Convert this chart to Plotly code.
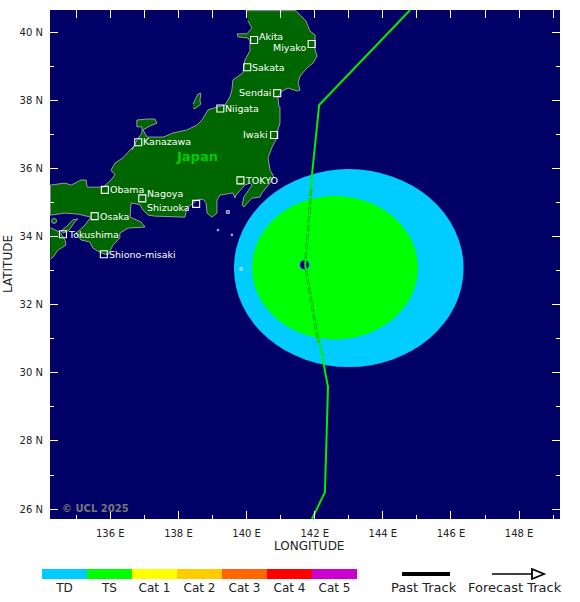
import plotly.graph_objects as go

W, H = 580, 602

# coastlines, lon/lat
honshu_lon = [140.01, 141.45, 141.57, 141.74, 141.86, 142.01, 142.01, 142.01, 142.07, 141.95, 141.77, 141.57,
              141.51, 141.57, 141.48, 141.22, 141.04, 140.92, 140.95, 140.98, 140.98, 140.89, 140.89, 140.75,
              140.63, 140.69, 140.80, 140.69, 140.45, 140.39, 140.16, 139.92, 139.87, 139.92, 140.16, 140.10,
              139.95, 139.81, 139.69, 139.66, 139.60, 139.22, 139.13, 139.13, 138.98, 138.84, 138.81, 138.72,
              138.54, 138.25, 138.19, 137.31, 137.11, 136.96, 136.87, 136.61, 136.58, 136.90, 137.02, 136.52,
              136.28, 136.28, 136.08, 135.93, 135.73, 135.49, 135.40, 135.14, 134.99, 135.26, 135.43, 135.05,
              134.67, 134.26, 134.24, 134.24, 134.67, 134.85, 135.14, 135.29, 135.32, 135.55, 135.79, 136.02,
              136.14, 136.02, 136.14, 136.37, 136.72, 136.64, 136.78, 136.93, 136.93, 136.78, 136.78, 137.08,
              137.31, 137.37, 137.17, 136.96, 137.08, 137.55, 137.84, 138.25, 138.54, 138.69, 138.87, 139.13,
              139.37, 139.51, 139.57, 139.60, 139.89, 139.95, 140.10, 140.10, 140.04, 139.75, 139.72, 140.01,
              140.16, 140.04]
honshu_lat = [40.63, 40.63, 40.50, 40.33, 40.03, 39.92, 39.74, 39.48, 39.30, 39.09, 38.95, 38.71,
              38.51, 38.30, 38.27, 38.36, 38.27, 38.10, 37.80, 37.80, 37.33, 37.04, 36.89, 36.63,
              36.31, 35.95, 35.75, 35.57, 35.28, 35.16, 35.13, 34.87, 34.93, 35.16, 35.51, 35.57,
              35.51, 35.37, 35.22, 35.13, 35.28, 35.22, 35.07, 34.69, 34.57, 34.69, 34.99, 35.10,
              35.07, 34.84, 34.57, 34.60, 34.63, 34.78, 34.93, 34.99, 34.57, 34.43, 34.28, 34.25,
              34.10, 33.96, 33.75, 33.46, 33.52, 33.66, 33.84, 33.90, 34.10, 34.34, 34.57, 34.66,
              34.69, 34.63, 34.63, 35.51, 35.57, 35.51, 35.66, 35.66, 35.45, 35.45, 35.45, 35.66,
              35.81, 35.95, 36.16, 36.31, 36.69, 36.54, 36.83, 37.04, 37.22, 37.22, 37.42, 37.45,
              37.45, 37.33, 37.25, 37.13, 36.92, 36.92, 37.04, 37.13, 37.27, 37.42, 37.72, 37.80,
              37.86, 38.10, 38.30, 38.60, 38.80, 39.18, 39.45, 39.74, 39.83, 39.86, 39.95, 39.95,
              40.12, 40.33]

sado_lon = [138.43, 138.57, 138.66, 138.63, 138.66, 138.48, 138.43]
sado_lat = [37.89, 38.18, 38.21, 37.98, 37.89, 37.75, 37.77]

shikoku_lon = [134.24, 134.26, 134.52, 134.67, 134.70, 134.47, 134.32, 134.26, 134.24]
shikoku_lat = [34.25, 34.25, 34.13, 33.90, 33.75, 33.61, 33.40, 33.34, 33.34]

awaji_lon = [135.05, 134.96, 134.79, 134.61, 134.55, 134.73, 134.90, 135.05]
awaji_lat = [34.52, 34.43, 34.19, 34.10, 34.16, 34.31, 34.49, 34.52]

islet_lon = [139.45, 139.16, 139.57, 139.84]
islet_lat = [34.72, 34.19, 34.05, 33.05]
shodo_lon = [134.35]
shodo_lat = [34.46]

# wind extents (lon min/max, lat min/max)
td_lon = [139.63, 146.37]
td_lat = [30.17, 35.98]
ts_lon = [140.16, 145.03]
ts_lat = [30.98, 35.19]

track_lon = [144.80, 142.13, 141.92, 141.72, 142.39, 142.30, 141.92]
track_lat = [40.65, 37.86, 35.81, 33.17, 29.58, 26.50, 25.71]
# part of the track over the wind area, where it shows dark edges
inner_lon = [141.90, 141.72, 142.10]
inner_lat = [35.40, 33.17, 30.90]
storm_lon = [141.70]
storm_lat = [33.17]

cities = ["Akita", "Miyako", "Sakata", "Sendai", "Niigata", "Iwaki", "Kanazawa", "TOKYO",
          "Obama", "Nagoya", "Shizuoka", "Osaka", "Tokushima", "Shiono-misaki"]
city_lon = [140.22, 141.91, 140.02, 140.90, 139.23, 140.81, 136.82, 139.82,
            135.84, 136.94, 138.52, 135.54, 134.61, 135.81]
city_lat = [39.77, 39.65, 38.97, 38.21, 37.76, 36.98, 36.77, 35.65,
            35.37, 35.12, 34.96, 34.60, 34.07, 33.48]
# which way each label sits from its box: side, dy in px
city_side = ["r", "l", "r", "l", "r", "l", "r", "r", "r", "r", "l", "r", "r", "r"]
city_dy = [3, -3, 0, 1, 0, 1, 1, 0, 0, 5, -4, 0, 0, 0]

cat_names = ["TD", "TS", "Cat 1", "Cat 2", "Cat 3", "Cat 4", "Cat 5"]
cat_colors = ["#00ccff", "#00ff00", "#ffff00", "#ffcc00", "#ff6600", "#ff0000", "#cc00cc"]
cat_width = [1, 1, 1, 1, 1, 1, 1]

lon_ticks = [136, 138, 140, 142, 144, 146, 148]
lon_labels = ["136 E", "138 E", "140 E", "142 E", "144 E", "146 E", "148 E"]
lon_all = list(range(135, 150))
lat_ticks = [26, 28, 30, 32, 34, 36, 38, 40]
lat_labels = ["26 N", "28 N", "30 N", "32 N", "34 N", "36 N", "38 N", "40 N"]

NAVY = "#000066"
LAND = "#006600"
COAST = "#999999"
FONT = "DejaVu Sans"


def px(x):
    return x / W


def py(y):
    return 1 - y / H


fig = go.Figure()

# ---------- land ----------
for lon, lat in [(honshu_lon, honshu_lat), (sado_lon, sado_lat), (shikoku_lon, shikoku_lat), (awaji_lon, awaji_lat)]:
    fig.add_trace(go.Scatter(x=lon, y=lat, mode="lines", fill="toself", fillcolor=LAND,
                             line=dict(color=COAST, width=1), hoverinfo="skip"))
fig.add_trace(go.Scatter(x=islet_lon, y=islet_lat, mode="markers",
                         marker=dict(symbol="square", size=[3, 1.5, 1.5, 2.5], color=COAST), hoverinfo="skip"))
fig.add_trace(go.Scatter(x=shodo_lon, y=shodo_lat, mode="markers",
                         marker=dict(size=5, color=LAND, line=dict(color=COAST, width=1)), hoverinfo="skip"))

# ---------- track ----------
fig.add_trace(go.Scatter(x=storm_lon, y=storm_lat, mode="markers",
                         marker=dict(size=10, color=NAVY, line=dict(color="#00ccff", width=1))))
fig.add_trace(go.Scatter(x=track_lon, y=track_lat, mode="lines", line=dict(color="#00ee00", width=2)))
fig.add_trace(go.Scatter(x=inner_lon, y=inner_lat, mode="lines",
                         line=dict(color="#00a000", width=2.4, dash="7px,2px")))
fig.add_trace(go.Scatter(x=inner_lon, y=inner_lat, mode="lines", line=dict(color="#00ff00", width=1)))

# ---------- cities ----------
fig.add_trace(go.Scatter(x=city_lon, y=city_lat, mode="markers",
                         marker=dict(symbol="square-open", size=7, color="white", line=dict(color="white", width=1.1))))
for name, lon, lat, side, dy in zip(cities, city_lon, city_lat, city_side, city_dy):
    fig.add_annotation(x=lon, y=lat, text=name, showarrow=False,
                       xanchor="left" if side == "r" else "right",
                       xshift=3 if side == "r" else -4, yshift=dy,
                       font=dict(family=FONT, size=9.5, color="white"))
fig.add_annotation(x=138.54, y=36.34, text="<b>Japan</b>", showarrow=False,
                   font=dict(family=FONT, size=13, color="#00cc00"))
fig.add_annotation(xref="paper", yref="paper", x=px(60), y=py(508), xanchor="left", yanchor="middle",
                   text="<b>© UCL 2025</b>", showarrow=False, font=dict(family=FONT, size=10, color="#777777"))

# ---------- category bar ----------
fig.add_trace(go.Bar(x=cat_names, y=cat_width, marker=dict(color=cat_colors, line=dict(width=0)),
                     xaxis="x2", yaxis="y2", width=1))

# hidden trace for the ticks along the top
fig.add_trace(go.Scatter(x=lon_all, y=[None] * len(lon_all), xaxis="x3", yaxis="y", mode="lines"))

# wind radii go under the land and the track
shapes = [
    dict(type="circle", xref="x", yref="y", x0=td_lon[0], x1=td_lon[1], y0=td_lat[0], y1=td_lat[1],
         fillcolor="#00ccff", line=dict(width=0), layer="below"),
    dict(type="circle", xref="x", yref="y", x0=ts_lon[0], x1=ts_lon[1], y0=ts_lat[0], y1=ts_lat[1],
         fillcolor="#00ff00", line=dict(width=0), layer="below"),
    # past / forecast keys
    dict(type="line", xref="paper", yref="paper", x0=px(402), x1=px(450), y0=py(574), y1=py(574),
         line=dict(color="black", width=4)),
    dict(type="line", xref="paper", yref="paper", x0=px(492), x1=px(532), y0=py(574), y1=py(574),
         line=dict(color="black", width=1.5)),
    dict(type="path", xref="paper", yref="paper",
         path=f"M {px(532)} {py(569)} L {px(544)} {py(574)} L {px(532)} {py(579)} Z",
         line=dict(color="black", width=1.8)),
]

# text placed on the page
for text, x, y, size, angle in [("Past Track", 424, 587, 13, 0), ("Forecast Track", 515, 587, 13, 0),
                                ("LONGITUDE", 309, 546, 12, 0), ("LATITUDE", 8, 264, 12, -90)]:
    fig.add_annotation(xref="paper", yref="paper", x=px(x), y=py(y), xanchor="center", yanchor="middle",
                       text=text, showarrow=False, textangle=angle,
                       font=dict(family=FONT, size=size, color="#222222"))

fig.update_layout(
    width=W, height=H, autosize=False,
    margin=dict(l=0, r=0, t=0, b=0),
    paper_bgcolor="white", plot_bgcolor=NAVY,
    showlegend=False, bargap=0, shapes=shapes,
    font=dict(family=FONT, size=10, color="#222222"),
    xaxis=dict(domain=[px(50), px(560)], range=[134.23, 149.2], tickvals=lon_ticks, ticktext=lon_labels,
               ticks="inside", ticklen=8, tickcolor="white", tickwidth=1, showgrid=False, zeroline=False,
               showline=False, tickfont=dict(size=10), ticklabelstandoff=7,
               minor=dict(dtick=1, tick0=135, ticks="inside", ticklen=4, tickcolor="white", showgrid=False)),
    yaxis=dict(domain=[py(519), py(10)], range=[25.71, 40.65], tickvals=lat_ticks, ticktext=lat_labels,
               ticks="inside", ticklen=8, tickcolor="white", tickwidth=1, showgrid=False, zeroline=False,
               showline=False, mirror="ticks", tickfont=dict(size=10), ticklabelstandoff=6,
               minor=dict(dtick=1, tick0=26, ticks="inside", ticklen=4, tickcolor="white", showgrid=False)),
    xaxis2=dict(domain=[px(42), px(357)], anchor="y2", type="category", ticks="", showgrid=False,
                showline=False, zeroline=False, tickfont=dict(size=12), ticklabelstandoff=0,
                range=[-0.5, 6.5]),
    yaxis2=dict(domain=[py(579), py(569)], anchor="x2", range=[0, 1], visible=False),
    xaxis3=dict(domain=[px(50), px(560)], range=[134.23, 149.2], overlaying="x", side="top", anchor="y",
                tickvals=lon_all, ticks="inside", ticklen=8, tickcolor="white", showticklabels=False,
                showgrid=False, zeroline=False, showline=False),
)

fig.write_html("out.html", config={"displayModeBar": False},
               post_script="document.body.style.margin='0';document.body.style.overflow='hidden';")
